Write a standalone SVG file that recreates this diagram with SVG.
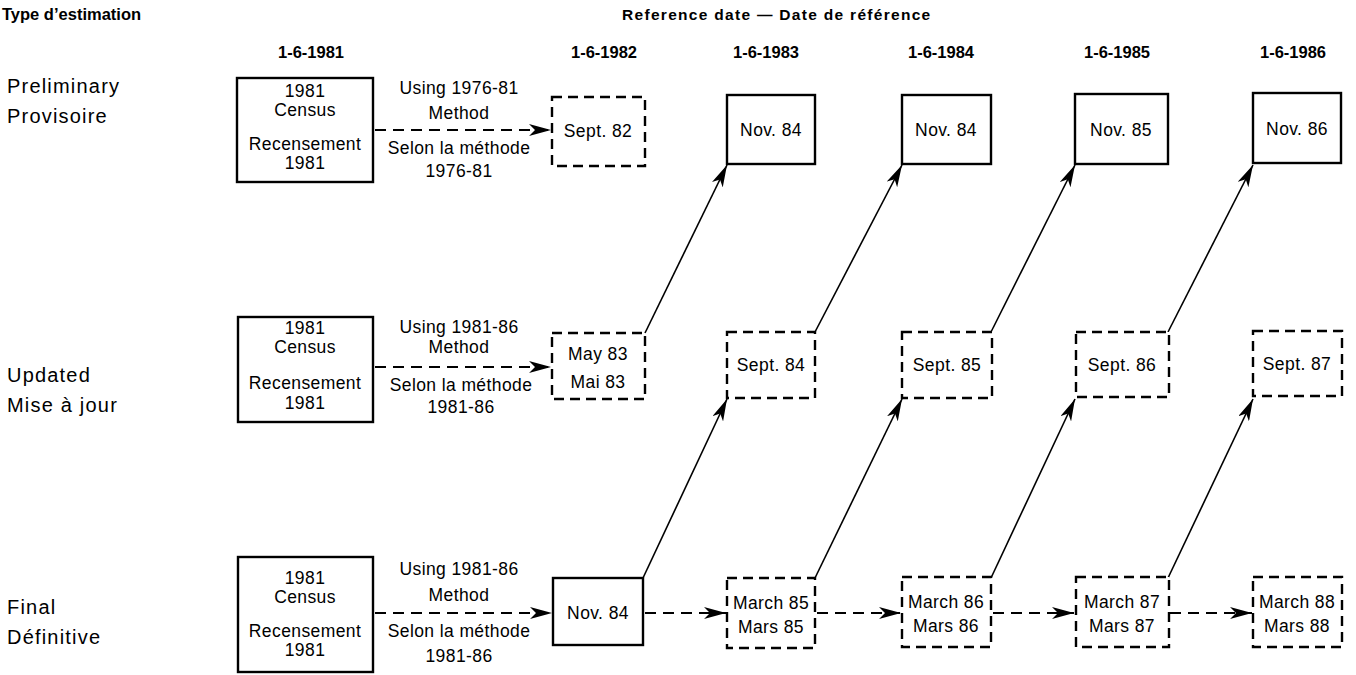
<svg xmlns="http://www.w3.org/2000/svg" width="1356" height="675" viewBox="0 0 1356 675">
<style>
text{font-family:"Liberation Sans",Arial,Helvetica,sans-serif;fill:#000}
.t{font-size:17.5px;letter-spacing:0.4px}
.c{text-anchor:middle}
.rl{font-size:20px;letter-spacing:1.2px}
.h{font-size:16.5px;font-weight:bold;text-anchor:middle}
.ty{font-size:16.5px;font-weight:bold}
.ref{font-size:15.5px;font-weight:bold;letter-spacing:1.3px}
.box{fill:#fff;stroke:#000;stroke-width:2.4}
.dbox{fill:#fff;stroke:#000;stroke-width:2.4;stroke-dasharray:10 6}
.sol{fill:none;stroke:#000;stroke-width:1.6}
.dash{fill:none;stroke:#000;stroke-width:2;stroke-dasharray:11 7}
</style>
<defs>
<marker id="ah" viewBox="0 0 22 12" refX="22" refY="6" markerWidth="22" markerHeight="12" markerUnits="userSpaceOnUse" orient="auto">
<path d="M0,0 L22,6 L0,12 L6,6 Z" fill="#000"/>
</marker>
</defs>

<g id="headers">
<text class="ty" x="2" y="20">Type d’estimation</text>
<text class="ref" x="622" y="20">Reference date — Date de référence</text>
<text class="h" x="311" y="58">1-6-1981</text>
<text class="h" x="604" y="58">1-6-1982</text>
<text class="h" x="766" y="58">1-6-1983</text>
<text class="h" x="941" y="58">1-6-1984</text>
<text class="h" x="1117" y="58">1-6-1985</text>
<text class="h" x="1293" y="58">1-6-1986</text>
</g>

<g id="row-labels">
<text class="rl" x="7" y="93">Preliminary</text>
<text class="rl" x="7" y="123">Provisoire</text>
<text class="rl" x="7" y="382">Updated</text>
<text class="rl" x="7" y="412">Mise à jour</text>
<text class="rl" x="7" y="614">Final</text>
<text class="rl" x="7" y="644">Définitive</text>
</g>

<g id="connectors">
<path class="dash" d="M375,130 H551" marker-end="url(#ah)"/>
<path class="dash" d="M375,367 H551" marker-end="url(#ah)"/>
<path class="dash" d="M375,613 H552" marker-end="url(#ah)"/>
<path class="dash" d="M645,613 H726" marker-end="url(#ah)"/>
<path class="dash" d="M817,613 H901" marker-end="url(#ah)"/>
<path class="dash" d="M993,613 H1074" marker-end="url(#ah)"/>
<path class="dash" d="M1170,613 H1252" marker-end="url(#ah)"/>
<path class="sol" d="M645,333 L727,165" marker-end="url(#ah)"/>
<path class="sol" d="M815,332 L902,165" marker-end="url(#ah)"/>
<path class="sol" d="M991,332 L1075,165" marker-end="url(#ah)"/>
<path class="sol" d="M1168,332 L1253,165" marker-end="url(#ah)"/>
<path class="sol" d="M643,578 L727,399" marker-end="url(#ah)"/>
<path class="sol" d="M815,578 L902,399" marker-end="url(#ah)"/>
<path class="sol" d="M991,578 L1075,399" marker-end="url(#ah)"/>
<path class="sol" d="M1168,578 L1253,399" marker-end="url(#ah)"/>
</g>

<g id="edge-labels">
<text class="t c" x="459" y="94">Using 1976-81</text>
<text class="t c" x="459" y="119">Method</text>
<text class="t c" x="459" y="154">Selon la méthode</text>
<text class="t c" x="459" y="177">1976-81</text>
<text class="t c" x="459" y="333">Using 1981-86</text>
<text class="t c" x="459" y="353">Method</text>
<text class="t c" x="461" y="391">Selon la méthode</text>
<text class="t c" x="461" y="413">1981-86</text>
<text class="t c" x="459" y="575">Using 1981-86</text>
<text class="t c" x="459" y="601">Method</text>
<text class="t c" x="459" y="637">Selon la méthode</text>
<text class="t c" x="459" y="662">1981-86</text>
</g>

<g id="census-prelim">
<rect class="box" x="237" y="78" width="136" height="104"/>
<text class="t c" x="305" y="97">1981</text>
<text class="t c" x="305" y="116">Census</text>
<text class="t c" x="305" y="150">Recensement</text>
<text class="t c" x="305" y="169">1981</text>
</g>
<g id="census-updated">
<rect class="box" x="238" y="317" width="135" height="105"/>
<text class="t c" x="305" y="334">1981</text>
<text class="t c" x="305" y="353">Census</text>
<text class="t c" x="305" y="389">Recensement</text>
<text class="t c" x="305" y="409">1981</text>
</g>
<g id="census-final">
<rect class="box" x="238" y="557" width="135" height="115"/>
<text class="t c" x="305" y="584">1981</text>
<text class="t c" x="305" y="603">Census</text>
<text class="t c" x="305" y="637">Recensement</text>
<text class="t c" x="305" y="656">1981</text>
</g>

<g id="sept82"><rect class="dbox" x="552" y="97" width="93" height="69"/><text class="t c" x="598" y="137">Sept. 82</text></g>
<g id="may83"><rect class="dbox" x="552" y="333" width="93" height="66"/><text class="t c" x="598" y="360">May 83</text><text class="t c" x="598" y="388">Mai 83</text></g>
<g id="nov84-final"><rect class="box" x="553" y="578" width="90" height="67"/><text class="t c" x="598" y="619">Nov. 84</text></g>

<g id="nov84-a"><rect class="box" x="727" y="95" width="88" height="69"/><text class="t c" x="771" y="136">Nov. 84</text></g>
<g id="nov84-b"><rect class="box" x="902" y="95" width="89" height="69"/><text class="t c" x="946" y="136">Nov. 84</text></g>
<g id="nov85"><rect class="box" x="1075" y="94" width="93" height="70"/><text class="t c" x="1121" y="136">Nov. 85</text></g>
<g id="nov86"><rect class="box" x="1253" y="93" width="88" height="70"/><text class="t c" x="1297" y="135">Nov. 86</text></g>

<g id="sept84"><rect class="dbox" x="727" y="332" width="88" height="66"/><text class="t c" x="771" y="371">Sept. 84</text></g>
<g id="sept85"><rect class="dbox" x="902" y="332" width="90" height="66"/><text class="t c" x="947" y="371">Sept. 85</text></g>
<g id="sept86"><rect class="dbox" x="1076" y="332" width="93" height="65"/><text class="t c" x="1122" y="371">Sept. 86</text></g>
<g id="sept87"><rect class="dbox" x="1253" y="331" width="89" height="65"/><text class="t c" x="1297" y="370">Sept. 87</text></g>

<g id="march85"><rect class="dbox" x="727" y="578" width="88" height="70"/><text class="t c" x="771" y="609">March 85</text><text class="t c" x="771" y="633">Mars 85</text></g>
<g id="march86"><rect class="dbox" x="902" y="577" width="89" height="70"/><text class="t c" x="946" y="608">March 86</text><text class="t c" x="946" y="632">Mars 86</text></g>
<g id="march87"><rect class="dbox" x="1076" y="577" width="93" height="70"/><text class="t c" x="1122" y="608">March 87</text><text class="t c" x="1122" y="632">Mars 87</text></g>
<g id="march88"><rect class="dbox" x="1253" y="577" width="89" height="70"/><text class="t c" x="1297" y="608">March 88</text><text class="t c" x="1297" y="632">Mars 88</text></g>
</svg>
